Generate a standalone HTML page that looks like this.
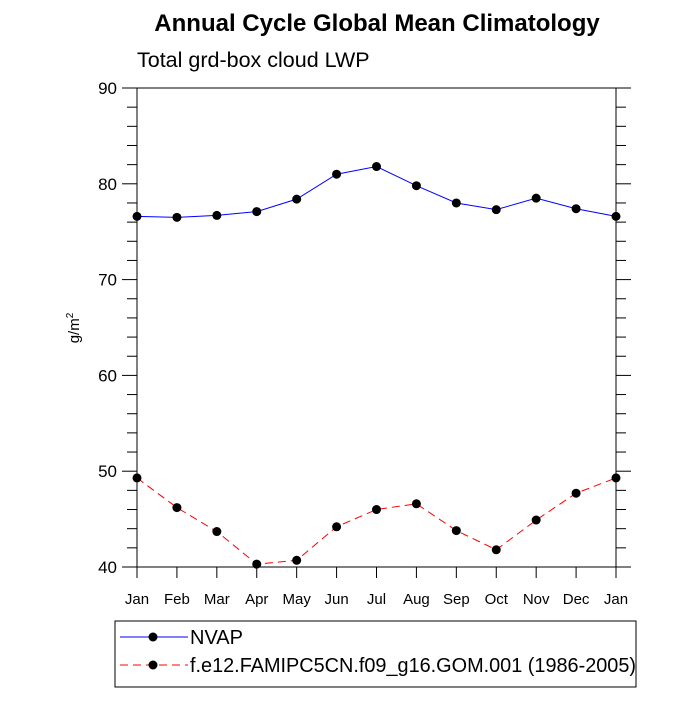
<!DOCTYPE html>
<html><head><meta charset="utf-8"><style>body{margin:0;background:#fff}svg{font-family:"Liberation Sans",sans-serif}</style></head>
<body>
<svg id="c" width="700" height="700" viewBox="0 0 700 700">
<text x="377" y="31" text-anchor="middle" font-size="24" font-weight="bold">Annual Cycle Global Mean Climatology</text>
<text x="137" y="67" font-size="21.5">Total grd-box cloud LWP</text>
<text transform="translate(79,328) rotate(-90)" text-anchor="middle" font-size="15">g/m<tspan dy="-6" font-size="10">2</tspan></text>
<g id="axes"></g><g id="series"></g>
<rect x="115" y="621" width="521" height="66" fill="none" stroke="#000" stroke-width="1"/>
<g><line x1="120" y1="637" x2="188" y2="637" stroke="#00f" stroke-width="1"/><circle cx="153" cy="637" r="4.5"/><text x="190" y="644" font-size="20">NVAP</text></g>
<g><line x1="120" y1="665" x2="188" y2="665" stroke="#f00" stroke-width="1" stroke-dasharray="8,5"/><circle cx="153" cy="665" r="4.5"/><text x="190" y="672" font-size="20" textLength="446" lengthAdjust="spacingAndGlyphs">f.e12.FAMIPC5CN.f09_g16.GOM.001 (1986-2005)</text></g>
</svg>
<script>
const months=["Jan","Feb","Mar","Apr","May","Jun","Jul","Aug","Sep","Oct","Nov","Dec","Jan"];
const nvap=[76.6,76.5,76.7,77.1,78.4,81.0,81.8,79.8,78.0,77.3,78.5,77.4,76.6];
const model=[49.3,46.2,43.7,40.3,40.7,44.2,46.0,46.6,43.8,41.8,44.9,47.7,49.3];
const yTicks=[40,50,60,70,80,90];
const NS="http://www.w3.org/2000/svg";
const L=137,R=616,T=88,B=567,ymin=40,ymax=90;
const xs=i=>L+(R-L)*i/(months.length-1);
const ys=v=>B-(v-ymin)/(ymax-ymin)*(B-T);
function mk(t,a,p){const e=document.createElementNS(NS,t);for(const k in a)e.setAttribute(k,a[k]);p.appendChild(e);return e;}
const ax=document.getElementById('axes'),sr=document.getElementById('series');
const frame=mk('rect',{x:L,y:T,width:R-L,height:B-T,fill:'none',stroke:'#000','stroke-width':1},ax);


for(let v=ymin;v<=ymax;v+=2){const y=ys(v);const maj=(v%10===0);const len=maj?15:10;
mk('line',{x1:L-len,y1:y,x2:L,y2:y,stroke:'#000'},ax);mk('line',{x1:R,y1:y,x2:R+len,y2:y,stroke:'#000'},ax);}
yTicks.forEach(v=>{const t=mk('text',{x:L-20,y:ys(v)+6,'text-anchor':'end','font-size':17},ax);t.textContent=v;

});
months.forEach((m,i)=>{const x=xs(i);mk('line',{x1:x,y1:B,x2:x,y2:B+11,stroke:'#000'},ax);
const t=mk('text',{x:x,y:B+37,'text-anchor':'middle','font-size':15},ax);t.textContent=m;

});
function draw(d,col,dash,name){const p=mk('polyline',{points:d.map((v,i)=>xs(i)+','+ys(v)).join(' '),fill:'none',stroke:col,'stroke-width':1,'stroke-dasharray':dash},sr);


d.forEach((v,i)=>{const c=mk('circle',{cx:xs(i),cy:ys(v),r:4.5,fill:'#000'},sr);

});}
draw(nvap,'#00f','none','nvap');
draw(model,'#f00','8,5','model');
</script>
</body></html>
